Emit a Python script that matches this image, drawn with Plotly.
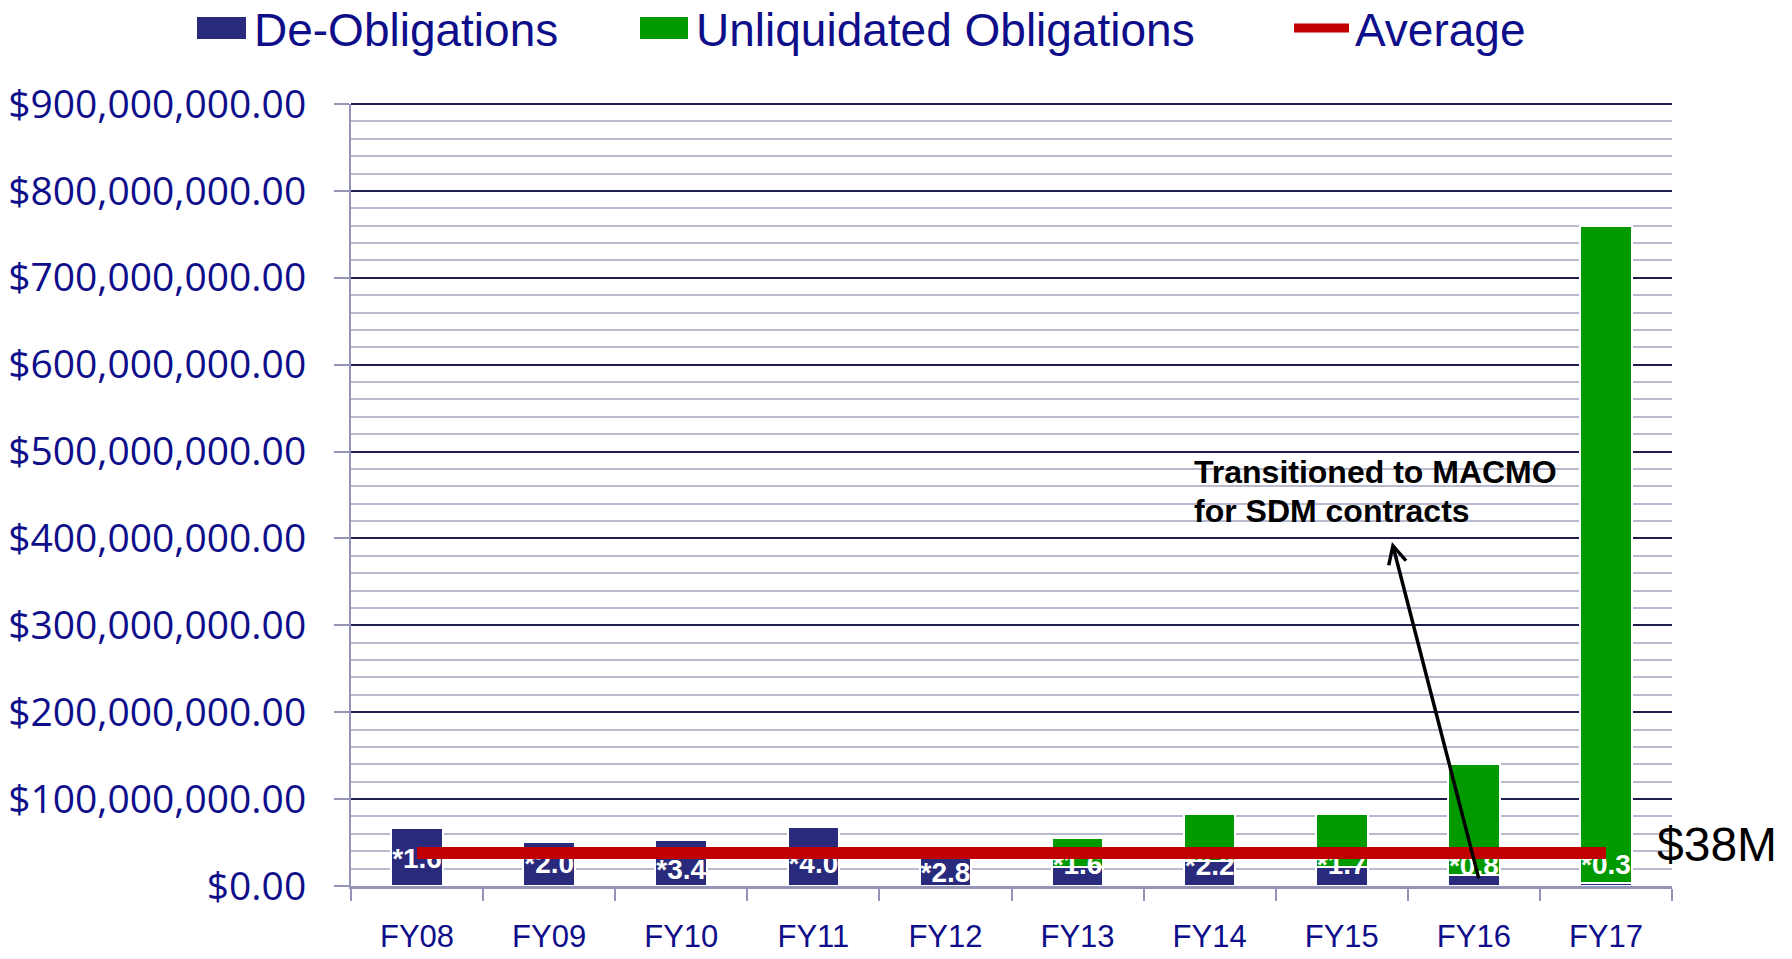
import plotly.graph_objects as go

# ---------------- data ----------------
categories = ["FY08", "FY09", "FY10", "FY11", "FY12", "FY13", "FY14", "FY15", "FY16", "FY17"]
de_obligations = [67e6, 51e6, 52.5e6, 68e6, 33e6, 22.4e6, 29e6, 22.4e6, 12.4e6, 3e6]
unliquidated = [0, 0, 0, 0, 0, 32.4e6, 53.6e6, 60.2e6, 127.6e6, 757e6]
average_value = 38e6
bar_labels = ["*1.6", "*2.0", "*3.4", "*4.0", "*2.8", "*1.6", "*2.2", "*1.7", "*0.8", "*0.3"]
label_y = [28.7e6, 23e6, 16.5e6, 23e6, 12.6e6, 21.6e6, 20.5e6, 22.4e6, 20.5e6, 22.4e6]
y_ticks = [i * 100_000_000 for i in range(10)]
avg_label = "$38M"
note_lines = ["Transitioned to MACMO", "for SDM contracts"]
arrow_from = (8.04, 7e6)
arrow_to = (7.38, 396e6)

# ---------------- style ----------------
NAVY = "#2A2A7D"
GREEN = "#009900"
RED = "#C00000"
TXT = "#0E0E8A"
AX = "#9494B8"
SANS = "Liberation Sans, Arial, sans-serif"
W, H = 1792, 959
# plot area in page pixels
PL, PR, PT, PB = 351, 1672, 104, 886
L, R, T, B = PL, W - PR, PT, H - PB


def px_x(px):
    return (px - PL) / (PR - PL)


def px_y(py):
    return (PB - py) / (PB - PT)


fig = go.Figure()
fig.add_trace(go.Bar(
    x=categories, y=de_obligations, name="De-Obligations",
    marker=dict(color=NAVY, line=dict(color="white", width=2)), width=0.39,
))
fig.add_trace(go.Bar(
    x=categories, y=unliquidated, name="Unliquidated Obligations",
    marker=dict(color=GREEN, line=dict(color="white", width=2)), width=0.39,
))
fig.add_trace(go.Scatter(
    x=categories, y=label_y, mode="text", text=[f"<b>{t}</b>" for t in bar_labels],
    textfont=dict(family=SANS, size=28, color="white"), showlegend=False, hoverinfo="skip",
))
fig.add_trace(go.Scatter(
    x=categories, y=[average_value] * len(categories), mode="lines", name="Average",
    line=dict(color=RED, width=12),
))

shapes = [
    dict(type="line", xref="paper", yref="paper", x0=0, x1=1, y0=1, y1=1,
         line=dict(color="#1E1E4E", width=2), layer="below"),
    dict(type="rect", xref="paper", yref="paper", x0=px_x(197), x1=px_x(246), y0=px_y(39), y1=px_y(17),
         fillcolor=NAVY, line=dict(width=0)),
    dict(type="rect", xref="paper", yref="paper", x0=px_x(640), x1=px_x(688), y0=px_y(39), y1=px_y(17),
         fillcolor=GREEN, line=dict(width=0)),
    dict(type="line", xref="paper", yref="paper", x0=px_x(1294), x1=px_x(1349), y0=px_y(28), y1=px_y(28),
         line=dict(color=RED, width=9)),
]
legend_font = dict(family=SANS, size=46, color=TXT)
note_font = dict(family=SANS, size=32, color="black")
annotations = [
    dict(text="De-Obligations", xref="paper", yref="paper", x=px_x(252), y=px_y(30),
         xanchor="left", yanchor="middle", showarrow=False, font=legend_font),
    dict(text="Unliquidated Obligations", xref="paper", yref="paper", x=px_x(694), y=px_y(30),
         xanchor="left", yanchor="middle", showarrow=False, font=legend_font),
    dict(text="Average", xref="paper", yref="paper", x=px_x(1353), y=px_y(30),
         xanchor="left", yanchor="middle", showarrow=False, font=legend_font),
    dict(text=avg_label, xref="paper", yref="y", x=px_x(1655), y=average_value, yshift=8,
         xanchor="left", yanchor="middle", showarrow=False,
         font=dict(family=SANS, size=48, color="black")),
    dict(text=f"<b>{note_lines[0]}</b>", xref="paper", yref="paper", x=px_x(1192), y=px_y(472),
         xanchor="left", yanchor="middle", showarrow=False, font=note_font),
    dict(text=f"<b>{note_lines[1]}</b>", xref="paper", yref="paper", x=px_x(1192), y=px_y(511),
         xanchor="left", yanchor="middle", showarrow=False, font=note_font),
    dict(text="", x=arrow_to[0], y=arrow_to[1], ax=arrow_from[0], ay=arrow_from[1],
         xref="x", yref="y", axref="x", ayref="y", showarrow=True,
         arrowhead=5, arrowsize=1, arrowwidth=3.5, arrowcolor="black"),
]

fig.update_layout(
    width=W, height=H,
    margin=dict(l=L, r=R, t=T, b=B, pad=0, autoexpand=False),
    paper_bgcolor="white", plot_bgcolor="white",
    barmode="stack", showlegend=False,
    shapes=shapes, annotations=annotations,
    xaxis=dict(
        type="category", showgrid=False, zeroline=False, automargin=False,
        showline=True, linecolor=AX, linewidth=3,
        ticks="outside", tickson="boundaries", ticklen=12, tickwidth=2, tickcolor=AX,
        tickfont=dict(family=SANS, size=31, color=TXT), ticklabelstandoff=21,
    ),
    yaxis=dict(
        range=[0, 900e6], tickvals=y_ticks, tickformat="$,.2f", automargin=False,
        showgrid=True, gridcolor="#1E1E4E", gridwidth=2,
        minor=dict(dtick=20e6, tick0=0, showgrid=True, gridcolor="#B9B9D0", gridwidth=1.5),
        zeroline=False, showline=True, linecolor=AX, linewidth=2,
        ticks="outside", ticklen=15, tickwidth=2, tickcolor=AX,
        tickfont=dict(family="Open Sans", size=39, color=TXT), ticklabelstandoff=20,
    ),
)

fig.write_html(
    "out.html",
    config={"displayModeBar": False},
    post_script="document.body.style.margin='0';document.body.style.overflow='hidden';",
)
